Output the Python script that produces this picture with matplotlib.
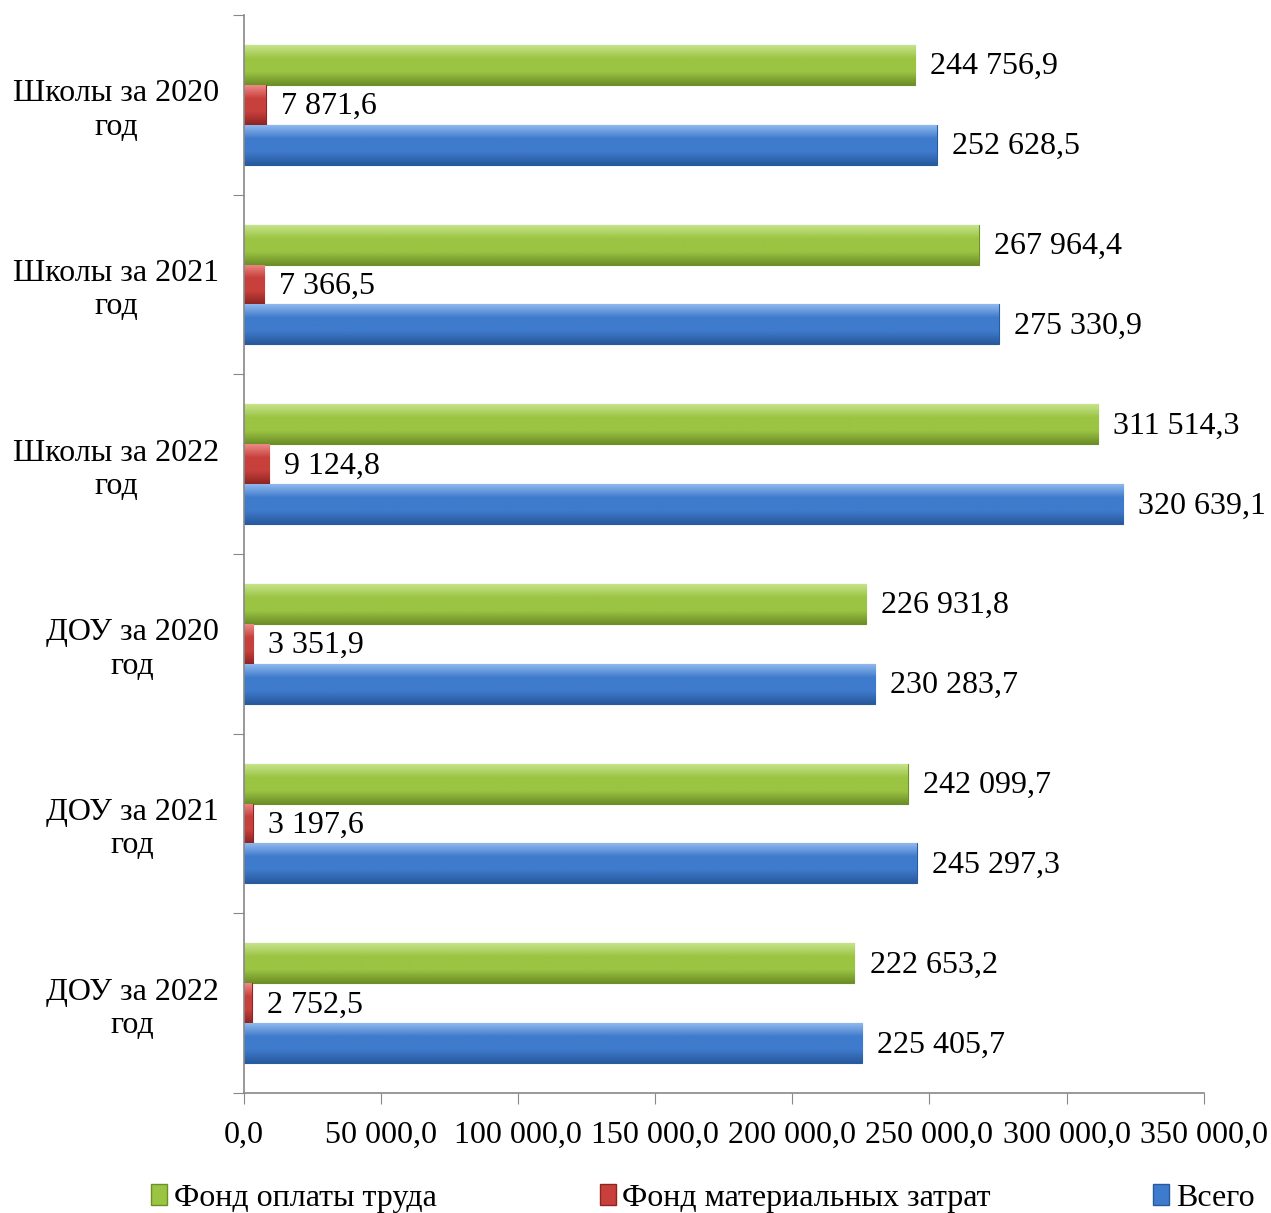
import numpy as np
import matplotlib
matplotlib.use('Agg')
import matplotlib.pyplot as plt
from matplotlib.patches import Patch
from matplotlib.colors import LinearSegmentedColormap

plt.rcParams['font.family'] = ['Liberation Serif', 'DejaVu Serif']

categories = ['Школы за 2020\nгод', 'Школы за 2021\nгод', 'Школы за 2022\nгод',
              'ДОУ за 2020\nгод', 'ДОУ за 2021\nгод', 'ДОУ за 2022\nгод']
series_names = ['Фонд оплаты труда', 'Фонд материальных затрат', 'Всего']
fot = [244756.9, 267964.4, 311514.3, 226931.8, 242099.7, 222653.2]
fmz = [7871.6, 7366.5, 9124.8, 3351.9, 3197.6, 2752.5]
total = [252628.5, 275330.9, 320639.1, 230283.7, 245297.3, 225405.7]
xticks = np.arange(0, 350001, 50000)

colors = ['#9bc443', '#c8403c', '#3f7bcc']
lights = ['#c6e38a', '#ec8a86', '#8fb8ee']
darks = ['#6d8f27', '#8e2522', '#285a9e']

FS = 23

def fmt(v, nd=1):
    s = f'{v:,.{nd}f}'
    return s.replace(',', ' ').replace('.', ',')

fig = plt.figure(figsize=(12.71, 12.13), dpi=100)
ax = fig.add_axes([0.192, 0.0989, 0.755, 0.8887])

y = np.arange(len(categories))
h = 0.222
offsets = [-h, 0, h]
grad = np.linspace(0, 1, 64).reshape(-1, 1)

for i, vals in enumerate([fot, fmz, total]):
    bars = ax.barh(y + offsets[i], vals, height=h, color=colors[i],
                   edgecolor=darks[i], linewidth=0.8, label=series_names[i], zorder=2)
    cmap = LinearSegmentedColormap.from_list('g%d' % i, [lights[i], colors[i], colors[i], darks[i]])
    for b, v in zip(bars, vals):
        x0, y0 = b.get_x(), b.get_y()
        w, hh = b.get_width(), b.get_height()
        im = ax.imshow(grad, cmap=cmap, aspect='auto', zorder=2.5,
                       extent=(x0, x0 + w, y0 + hh, y0), interpolation='bilinear')
        im.set_clip_path(b)
        ax.text(v + 5500, y0 + hh / 2 + 0.01, fmt(v), va='center', ha='left', fontsize=FS)

ax.set_xlim(0, 350000)
ax.set_ylim(len(categories) - 0.5, -0.5)
ax.set_xticks(xticks)
ax.set_xticklabels([fmt(t) for t in xticks], fontsize=FS)
ax.set_yticks(np.arange(len(categories) + 1) - 0.5)
ax.set_yticklabels([])
ax.set_yticks(y, minor=True)
ax.set_yticklabels(categories, minor=True, fontsize=FS, multialignment='center')
ax.tick_params(axis='y', which='minor', length=0, pad=18)
ax.tick_params(axis='y', which='major', length=8, color='#888888', direction='out')
ax.tick_params(axis='x', length=8, color='#888888', direction='out', pad=12)
for s in ['top', 'right']:
    ax.spines[s].set_visible(False)
for s in ['left', 'bottom']:
    ax.spines[s].set_color('#888888')
    ax.spines[s].set_linewidth(1.2)

handles = [Patch(facecolor=colors[i], edgecolor=darks[i]) for i in range(3)]
fig.legend(handles, series_names, loc='center', bbox_to_anchor=(0.553, 0.012), ncol=3,
           frameon=False, fontsize=FS, handlelength=0.5, handleheight=0.65,
           handletextpad=0.2, columnspacing=5.1)

fig.savefig('out.png', dpi=100)
